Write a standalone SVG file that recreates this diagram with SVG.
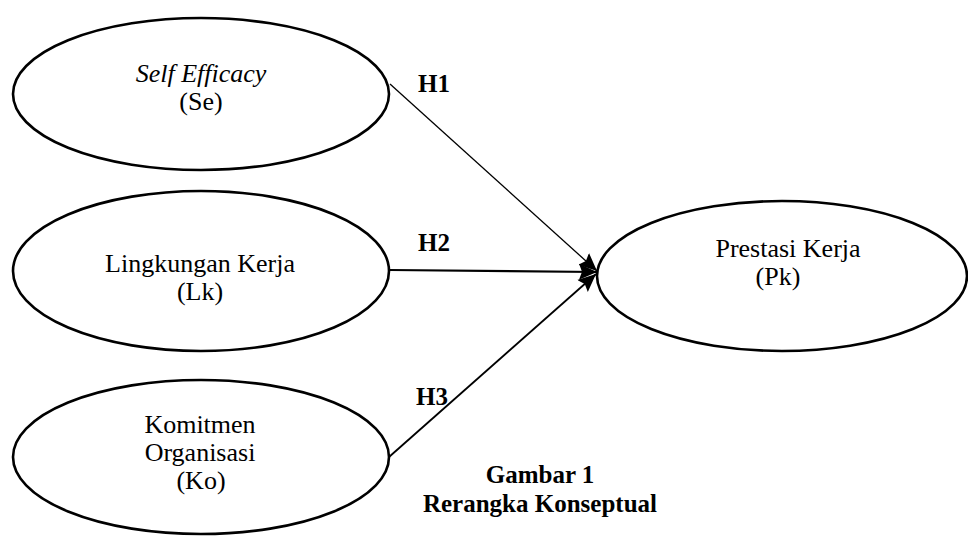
<svg xmlns="http://www.w3.org/2000/svg" width="968" height="536" viewBox="0 0 968 536">
<style>
.node ellipse{fill:#fff;stroke:#000;stroke-width:2.6}
.t{font-family:"Liberation Serif","Times New Roman",serif;font-size:25px;fill:#000;text-anchor:middle}
.n{font-size:26px}
.i{font-style:italic}
.b{font-weight:bold}
.c line{stroke:#000}
</style>
<defs>
<marker id="ah" markerUnits="userSpaceOnUse" markerWidth="20" markerHeight="20" refX="18" refY="10" orient="auto">
<path d="M0,2 L18,10 L0,18 L3,10 Z" fill="#000"/>
</marker>
</defs>
<rect width="968" height="536" fill="#fff"/>
<g id="node-se" class="node">
<ellipse cx="201" cy="94" rx="188" ry="76"/>
<text class="t n i" x="201" y="82">Self Efficacy</text>
<text class="t n" x="201" y="110">(Se)</text>
</g>
<g id="node-lk" class="node">
<ellipse cx="201" cy="271" rx="188" ry="80"/>
<text class="t n" x="200" y="272">Lingkungan Kerja</text>
<text class="t n" x="200" y="300">(Lk)</text>
</g>
<g id="node-ko" class="node">
<ellipse cx="201" cy="457" rx="188" ry="77"/>
<text class="t n" x="200" y="433">Komitmen</text>
<text class="t n" x="200" y="461">Organisasi</text>
<text class="t n" x="201" y="489">(Ko)</text>
</g>
<g id="node-pk" class="node">
<ellipse cx="782" cy="276" rx="185" ry="75"/>
<text class="t n" x="788" y="257">Prestasi Kerja</text>
<text class="t n" x="778" y="285">(Pk)</text>
</g>
<g id="connectors" class="c">
<line x1="390" y1="84" x2="597" y2="271" stroke-width="1.3" marker-end="url(#ah)"/>
<line x1="390" y1="270" x2="597" y2="272" stroke-width="2.2" marker-end="url(#ah)"/>
<line x1="389" y1="457" x2="596" y2="274" stroke-width="1.8" marker-end="url(#ah)"/>
</g>
<g id="labels">
<text class="t b" x="434" y="92">H1</text>
<text class="t b" x="434" y="251">H2</text>
<text class="t b" x="432" y="405">H3</text>
<text class="t b" x="540" y="483">Gambar 1</text>
<text class="t b" x="540" y="512">Rerangka Konseptual</text>
</g>
</svg>
